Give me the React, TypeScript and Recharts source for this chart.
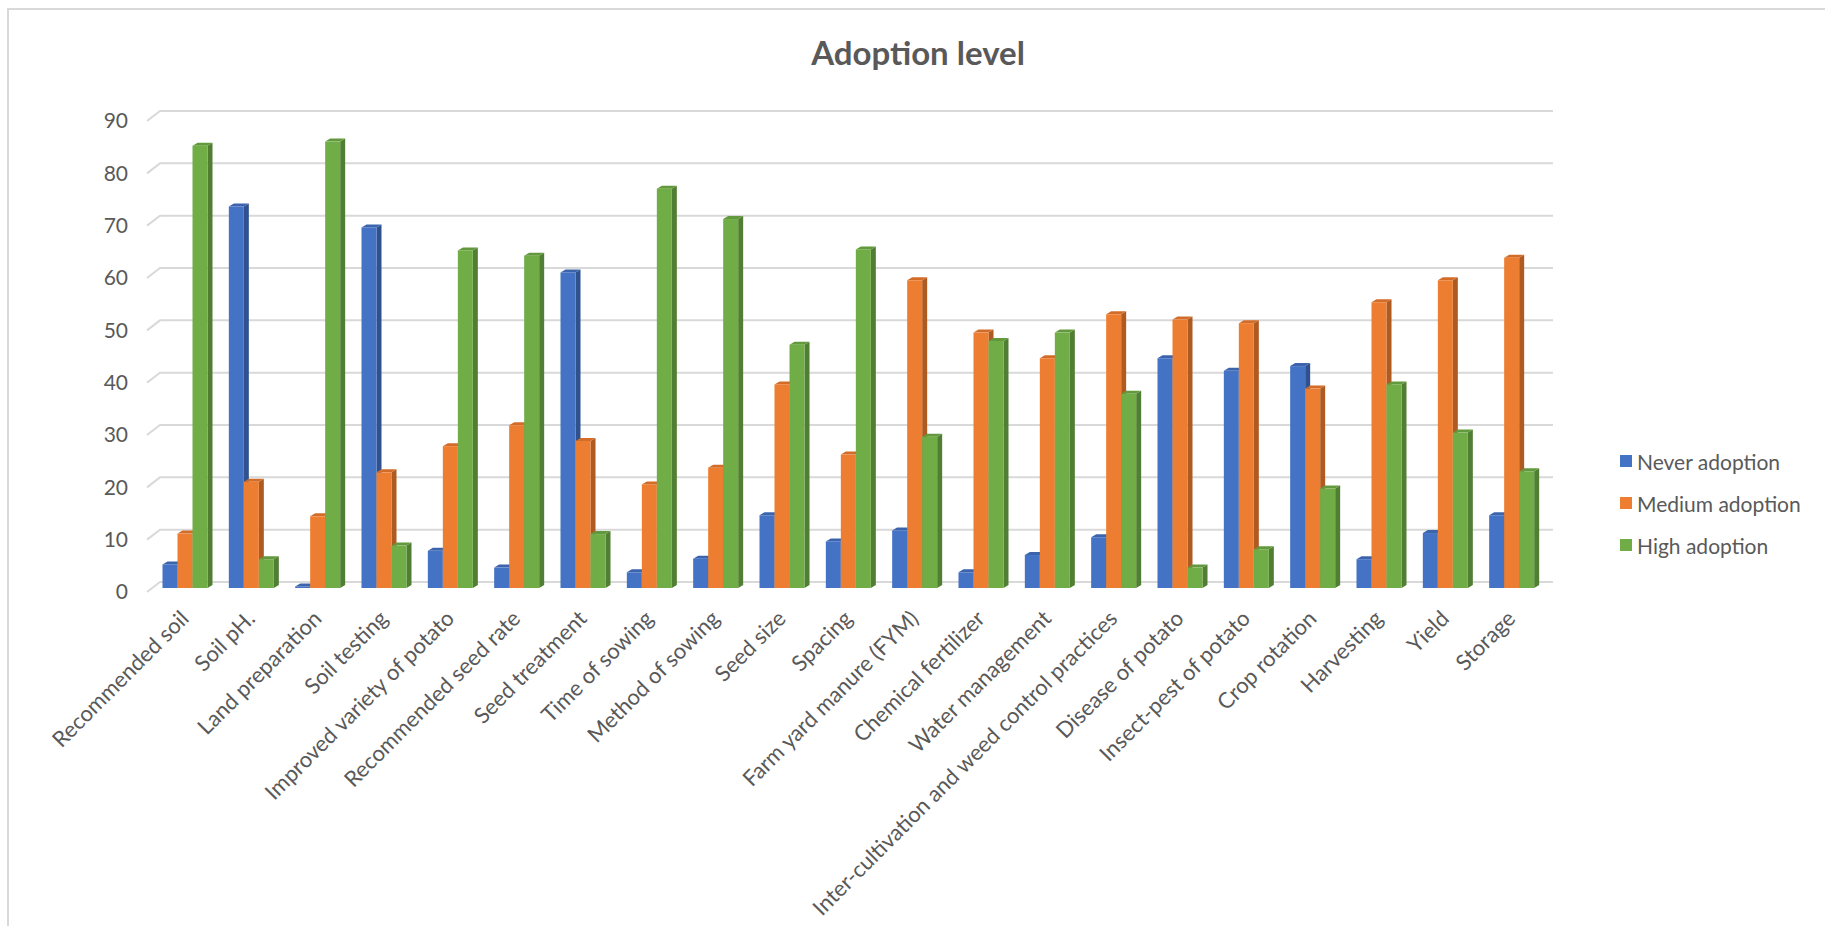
import { BarChart, Bar, XAxis, YAxis, CartesianGrid, Legend } from 'recharts'

const practices = [
  'Recommended soil',
  'Soil pH.',
  'Land preparation',
  'Soil testing',
  'Improved variety of potato',
  'Recommended seed rate',
  'Seed treatment',
  'Time of sowing',
  'Method of sowing',
  'Seed size',
  'Spacing',
  'Farm yard manure (FYM)',
  'Chemical fertilizer',
  'Water management',
  'Inter-cultivation and weed control practices',
  'Disease of potato',
  'Insect-pest of potato',
  'Crop rotation',
  'Harvesting',
  'Yield',
  'Storage',
]

const neverAdoption = [4.5, 72.9, 0.3, 68.9, 7.1, 3.9, 60.3, 3.0, 5.6, 13.9, 8.9, 11.0, 3.0, 6.3, 9.7, 43.9, 41.5, 42.4, 5.5, 10.5, 13.9]
const mediumAdoption = [10.4, 20.3, 13.7, 22.1, 27.1, 31.1, 28.1, 19.8, 23.0, 38.9, 25.5, 58.8, 48.8, 43.9, 52.3, 51.3, 50.6, 38.1, 54.6, 58.8, 63.1]
const highAdoption = [84.5, 5.5, 85.3, 8.1, 64.5, 63.5, 10.3, 76.3, 70.5, 46.5, 64.7, 28.9, 47.2, 48.8, 37.1, 3.9, 7.4, 19.0, 38.9, 29.7, 22.3]

const yTicks = [0, 10, 20, 30, 40, 50, 60, 70, 80, 90]

const series = [
  { key: 'never', name: 'Never adoption', front: '#4472c4', top: '#3b64ad', side: '#2f528f' },
  { key: 'medium', name: 'Medium adoption', front: '#ed7d31', top: '#d26c28', side: '#ae5a21' },
  { key: 'high', name: 'High adoption', front: '#70ad47', top: '#62993d', side: '#507e32' },
]

const data = practices.map((name, i) => ({
  name,
  never: neverAdoption[i],
  medium: mediumAdoption[i],
  high: highAdoption[i],
}))

const FONT = 'Lato, "Open Sans", sans-serif'
const TEXT = '#595959'

// wall depth of the fake 3D floor, and how far the columns sit into it
const WALL_DX = 13
const WALL_DY = 10
const COL_DX = 4.5
const COL_DY = 4
const CAP_DX = 5
const CAP_DY = 3

function column(colors: { front: string; top: string; side: string }) {
  return (props: any) => {
    const { x, y, width, height } = props
    if (width == null || height == null) return null
    const l = x + COL_DX
    const t = y - COL_DY
    const r = l + width
    const b = t + height
    return (
      <g>
        <polygon
          points={`${r},${t} ${r + CAP_DX},${t - CAP_DY} ${r + CAP_DX},${b - CAP_DY} ${r},${b}`}
          fill={colors.side}
        />
        <polygon
          points={`${l},${t} ${l + CAP_DX},${t - CAP_DY} ${r + CAP_DX},${t - CAP_DY} ${r},${t}`}
          fill={colors.top}
        />
        <rect x={l} y={t} width={width} height={height} fill={colors.front} />
      </g>
    )
  }
}

function WallLine(props: any) {
  const { x1, y1, x2 } = props
  return (
    <path
      key={props.key}
      d={`M${x1},${y1} L${x1 + WALL_DX},${y1 - WALL_DY} L${x2 + WALL_DX},${y1 - WALL_DY}`}
      fill="none"
      stroke="#d9d9d9"
      strokeWidth={2}
    />
  )
}

function CategoryTick(props: any) {
  const { x, y, payload } = props
  const ax = x + 10
  const ay = y + 20
  return (
    <text
      x={ax}
      y={ay}
      transform={`rotate(-45, ${ax}, ${ay})`}
      textAnchor="end"
      fontFamily={FONT}
      fontSize={22}
      fill={TEXT}
    >
      {payload.value}
    </text>
  )
}

function LegendBox() {
  return (
    <div style={{ fontFamily: FONT, fontSize: 21, color: TEXT }}>
      {series.map((s) => (
        <div key={s.key} style={{ display: 'flex', alignItems: 'center', height: 42 }}>
          <span style={{ width: 12, height: 12, background: s.front, marginRight: 5 }} />
          <span>{s.name}</span>
        </div>
      ))}
    </div>
  )
}

export default function App() {
  return (
    <div
      style={{
        position: 'absolute',
        left: 0,
        top: 0,
        width: 1825,
        height: 926,
        background: '#fff',
        overflow: 'hidden',
      }}
    >
      <div
        style={{
          position: 'absolute',
          left: 7,
          top: 8,
          width: 1840,
          height: 940,
          border: '2px solid #d9d9d9',
        }}
      />
      <div
        style={{
          position: 'absolute',
          left: 0,
          width: 1836,
          top: 32,
          textAlign: 'center',
          fontFamily: FONT,
          fontWeight: 700,
          fontSize: 33,
          color: TEXT,
        }}
      >
        Adoption level
      </div>
      <div style={{ position: 'absolute', left: 0, top: 0 }}>
        <BarChart
          width={1825}
          height={926}
          data={data}
          margin={{ top: 121, right: 285, bottom: 34, left: 47 }}
          barSize={15}
          barGap={0}
        >
          <CartesianGrid vertical={false} horizontal={WallLine} />
          <XAxis
            dataKey="name"
            interval={0}
            axisLine={false}
            tickLine={false}
            height={300}
            tick={CategoryTick}
          />
          <YAxis
            domain={[0, 90]}
            ticks={yTicks}
            width={100}
            axisLine={false}
            tickLine={false}
            tickSize={0}
            tickMargin={19}
            tick={{ fontFamily: FONT, fontSize: 21, fill: TEXT }}
          />
          <Legend
            layout="horizontal"
            align="center"
            verticalAlign="middle"
            content={LegendBox}
            wrapperStyle={{ left: 1620, top: 440, width: 200 }}
          />
          {series.map((s) => (
            <Bar
              key={s.key}
              dataKey={s.key}
              name={s.name}
              fill={s.front}
              shape={column(s)}
              isAnimationActive={false}
            />
          ))}
        </BarChart>
      </div>
    </div>
  )
}
